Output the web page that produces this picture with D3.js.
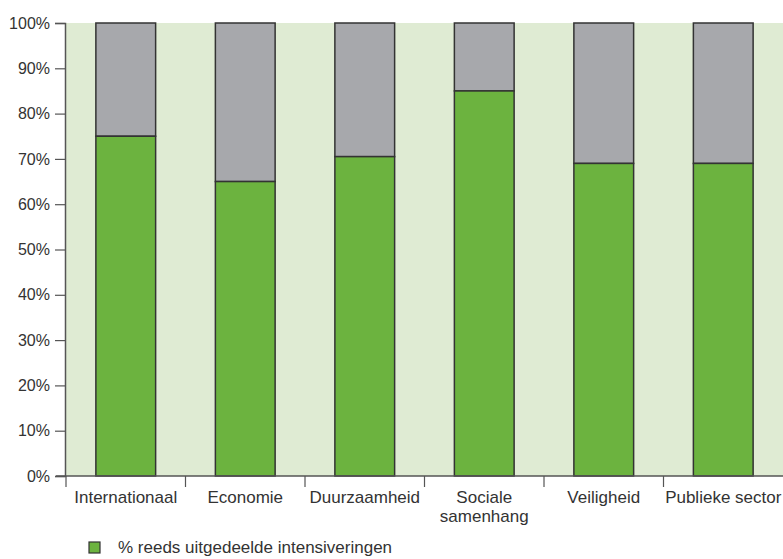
<!DOCTYPE html>
<html><head><meta charset="utf-8">
<script src="https://cdn.jsdelivr.net/npm/d3@7"></script>
<style>body{margin:0;background:#fff}svg{display:block}text{font-family:"Liberation Sans",Arial,sans-serif;fill:#333}</style>
</head><body>
<svg id="c" width="783" height="559"></svg>
<script>
const categories = [["Internationaal"],["Economie"],["Duurzaamheid"],["Sociale","samenhang"],["Veiligheid"],["Publieke sector"]];
const distributed = [75, 65, 70.5, 85, 69, 69];
const remaining = distributed.map(v => 100 - v);
const yTicks = [0,10,20,30,40,50,60,70,80,90,100];
const legendLabel = "% reeds uitgedeelde intensiveringen";

(function(){
const svg = d3.select("#c");
const pL = 66, pR = 783, pT = 23, pB = 476;
const x = d3.scaleBand().domain(d3.range(categories.length)).range([pL, pR]).padding(0);
const y = d3.scaleLinear().domain([0,100]).range([pB, pT]);

svg.append("rect").attr("x", pL).attr("y", pT).attr("width", pR-pL).attr("height", pB-pT).attr("fill", "#dfebd3");

const bw = x.bandwidth();
const g = svg.append("g");
distributed.forEach((v,i) => {
  const x0 = x(i) + bw*0.25, w = bw*0.5;
  g.append("rect").attr("x", x0).attr("y", y(100)).attr("width", w).attr("height", y(v)-y(100))
    .attr("fill", "#a7a8ac").attr("stroke", "#333").attr("stroke-width", 1.5);
  g.append("rect").attr("x", x0).attr("y", y(v)).attr("width", w).attr("height", y(0)-y(v))
    .attr("fill", "#6cb33f").attr("stroke", "#333").attr("stroke-width", 1.5);
});

// y axis
const ya = svg.append("g").attr("transform", `translate(${pL-1},0)`)
  .call(d3.axisLeft(y).tickValues(yTicks).tickFormat(d => d + "%").tickSize(10).tickPadding(5));
ya.select(".domain").attr("stroke", "#555").attr("stroke-width", 1.5);
ya.selectAll(".tick line").attr("stroke", "#555").attr("stroke-width", 1.2);
ya.selectAll("text").style("font-size", "16px").attr("fill", "#333").style("font-family", "'Liberation Sans',Arial,sans-serif");

// x axis
const xa = svg.append("g").attr("transform", `translate(0,${pB})`);
xa.append("line").attr("x1", pL-10).attr("x2", pR).attr("y1", 0).attr("y2", 0).attr("stroke", "#555").attr("stroke-width", 1.5);
d3.range(categories.length).forEach(i => {
  xa.append("line").attr("x1", x(i)).attr("x2", x(i)).attr("y1", 0).attr("y2", 11).attr("stroke", "#555").attr("stroke-width", 1.2);
  const t = xa.append("text").attr("x", x(i) + bw/2).attr("y", 27).attr("text-anchor", "middle").style("font-size", "17px");
  categories[i].forEach((line, k) => t.append("tspan").attr("x", x(i)+bw/2).attr("dy", k ? 19 : 0).text(line));
});

// legend
svg.append("rect").attr("x", 89).attr("y", 542).attr("width", 11).attr("height", 11).attr("fill", "#6cb33f").attr("stroke", "#333").attr("stroke-width", 1.2);
svg.append("text").attr("x", 118).attr("y", 553).style("font-size", "17px").text(legendLabel);
})();
</script>
</body></html>
